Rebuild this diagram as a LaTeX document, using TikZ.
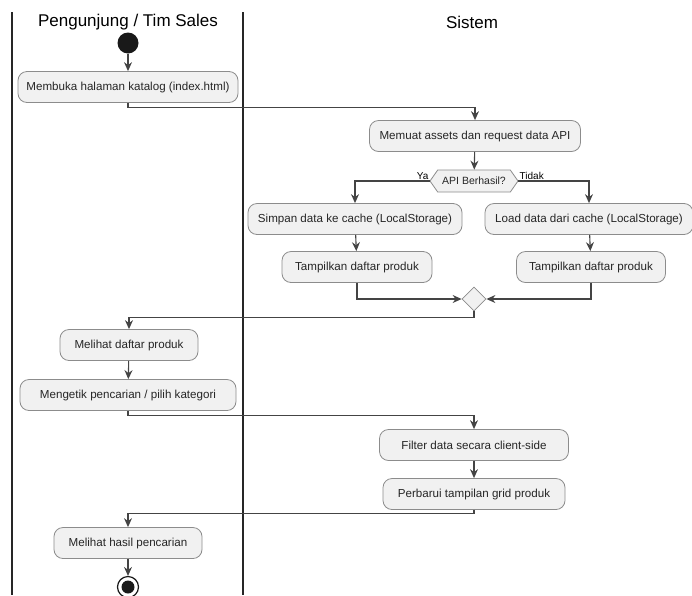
\documentclass[tikz,border=0pt]{standalone}
\usepackage{fontspec}
\setmainfont{Liberation Sans}
\usetikzlibrary{arrows.meta,shapes.geometric,shapes.symbols}
\definecolor{actfill}{HTML}{F1F1F1}
\definecolor{actline}{HTML}{8C8C8C}
\definecolor{flow}{HTML}{444444}
\tikzset{
  act/.style={draw=actline, fill=actfill, rounded corners=9pt, minimum height=31pt,
    inner sep=0pt, font=\fontsize{11.6}{13}\selectfont, text=black!85, line width=0.8pt},
  lane/.style={draw=black!85, line width=1.6pt},
  flowline/.style={draw=flow, line width=1.1pt, -{Stealth[length=9pt,width=8pt,inset=3pt]}},
  lanehead/.style={font=\fontsize{17}{20}\selectfont},
  guard/.style={font=\fontsize{10}{12}\selectfont, inner sep=0pt},
}
\begin{document}
\begin{tikzpicture}[x=1pt,y=-1pt]
\useasboundingbox (0,0) rectangle (692,595);
\clip (0,0) rectangle (692,595);

% swimlane borders
\draw[lane] (12,12) -- (12,595);
\draw[lane] (243,12) -- (243,595);
\node[lanehead] (laneA) at (128,22) {Pengunjung / Tim Sales};
\node[lanehead] (laneB) at (472,22) {Sistem};

% start
\node[circle, fill=black!90, minimum size=21pt, inner sep=0pt] (start) at (128,43) {};

% activities
\node[act, minimum width=220pt] (n1) at (128,87) {Membuka halaman katalog (index.html)};
\node[act, minimum width=211pt] (n2) at (475,136) {Memuat assets dan request data API};
\node[signal, signal to=east and west, signal pointer angle=110, draw=actline, fill=actfill,
  minimum width=88pt, minimum height=22pt, inner sep=0pt, line width=0.8pt,
  font=\fontsize{10.5}{12}\selectfont, text=black!85] (dec) at (474,181) {API Berhasil?};
\node[act, minimum width=214pt] (n3) at (355,219) {Simpan data ke cache (LocalStorage)};
\node[act, minimum width=208pt] (n4) at (589,219) {Load data dari cache (LocalStorage)};
\node[act, minimum width=150pt] (n5) at (357,267) {Tampilkan daftar produk};
\node[act, minimum width=149pt] (n6) at (591,267) {Tampilkan daftar produk};
\node[diamond, draw=actline, fill=actfill, minimum size=24pt, inner sep=0pt, line width=0.8pt] (merge) at (474,299) {};
\node[act, minimum width=138pt] (n7) at (129,345) {Melihat daftar produk};
\node[act, minimum width=216pt] (n8) at (128,395) {Mengetik pencarian / pilih kategori};
\node[act, minimum width=189pt] (n9) at (474,445) {Filter data secara client-side};
\node[act, minimum width=182pt] (n10) at (474,494) {Perbarui tampilan grid produk};
\node[act, minimum width=148pt] (n11) at (128,543) {Melihat hasil pencarian};

% end
\node[circle, draw=black!90, fill=white, line width=1.2pt, minimum size=21pt, inner sep=0pt] (stop) at (128,587) {};
\fill[black!90] (stop.center) circle (6.5pt);

% guards
\node[guard, anchor=south east] (ya) at ([xshift=-1pt,yshift=1pt]dec.west) {Ya};
\node[guard, anchor=south west] (tidak) at ([xshift=1pt,yshift=1pt]dec.east) {Tidak};

% flows
\draw[flowline] (start) -- (n1);
\draw[flowline] (n1.south) -- ++(0,5) -| (n2.north);
\draw[flowline] (n2) -- (dec);
\draw[flowline] (dec.west) -| (n3.north);
\draw[flowline] (dec.east) -| (n4.north);
\draw[flowline] (n3) -- (n5);
\draw[flowline] (n4) -- (n6);
\draw[flowline] (n5.south) |- (merge.west);
\draw[flowline] (n6.south) |- (merge.east);
\draw[flowline] (merge.south) -- ++(0,6) -| (n7.north);
\draw[flowline] (n7) -- (n8);
\draw[flowline] (n8.south) -- ++(0,5) -| (n9.north);
\draw[flowline] (n9) -- (n10);
\draw[flowline] (n10.south) -- ++(0,4) -| (n11.north);
\draw[flowline] (n11) -- (stop);
\end{tikzpicture}
\end{document}
